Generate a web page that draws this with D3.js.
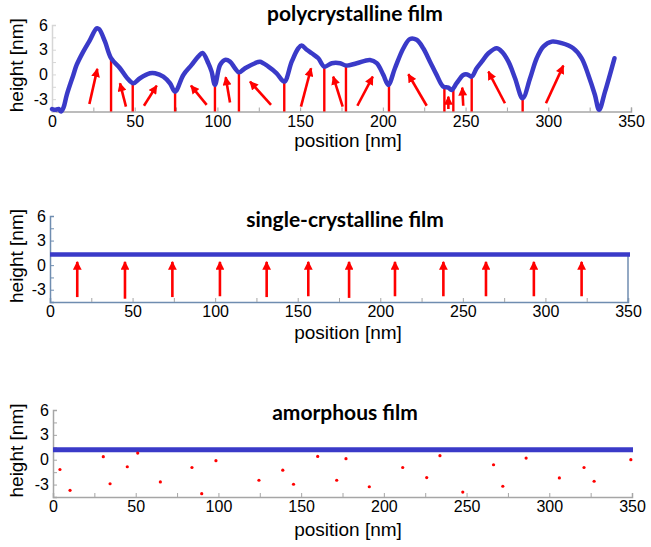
<!DOCTYPE html>
<html>
<head>
<meta charset="utf-8">
<script src="https://cdn.jsdelivr.net/npm/d3@7"></script>
<style>
  body { margin: 0; background: #fff; }
  svg { display: block; }
</style>
</head>
<body>
<script>
// height profiles [position nm, height nm]
const polyX = [0, 2, 4, 5.5, 7, 8.9, 12.9, 14.9, 18.9, 23, 27, 28.5, 32, 35.7, 41.1, 45.5, 49.2, 53.2, 59.2, 62.3, 67.3, 71.3, 74.4, 79.4, 84.4, 88.5, 91, 94.5, 96.5, 98.5, 101.6, 104.6, 107.6, 110.6, 113, 116.7, 122.7, 125.7, 130.8, 135.8, 140.4, 144.9, 148.9, 150.9, 154, 157, 161, 164.6, 169.1, 174.1, 177.9, 184.2, 192.2, 196.3, 200.3, 203.3, 207.3, 212.4, 216.4, 220.4, 224.4, 228.5, 232.5, 236.5, 239.6, 241.6, 244.6, 248.6, 251, 253.7, 256.7, 259.8, 263.8, 268.8, 271.9, 275.9, 279.9, 284.5, 289, 293, 297, 302.1, 308.1, 315.1, 320.2, 324.2, 328.2, 330.7, 334.3, 340];
const polyY = [-4.2, -4.3, -4.2, -4.5, -4.0, -2.5, -0.06, 1.15, 2.77, 4.2, 5.6, 5.5, 4.0, 1.97, 0.75, -0.46, -1.07, -0.46, 0.14, 0.14, -0.26, -1.07, -2.1, -0.06, 1.15, 2.2, 2.6, 1.36, 0.34, -1.27, 1.15, 1.76, 1.55, 0.75, 0.26, 0.75, 1.36, 1.55, 0.95, 0.14, -0.87, 1.55, 3.18, 3.5, 3.0, 2.57, 1.96, 0.95, 1.36, 1.36, 1.07, 1.36, 1.76, 1.36, -0.06, -1.27, 0.75, 3.18, 4.3, 4.2, 3.18, 1.55, -0.06, -1.48, -1.6, -1.88, -1.07, -0.06, 0.0, -0.27, 0.75, 1.55, 2.57, 3.18, 2.77, 1.55, -0.46, -2.9, -0.46, 1.96, 3.38, 3.98, 3.79, 3.18, 1.96, -0.06, -2.5, -4.3, -2.09, 1.96];

// grain boundaries of the polycrystalline film
const boundaries = [35.7, 48.8, 74.4, 98.5, 113, 140.4, 164.6, 177.7, 203.7, 237.2, 242.6, 253.7, 284.5];

// crystal orientation arrows: tail (x, y) -> head (x, y)
const polyArrowX0 = [22.6, 44.7, 55.6, 93.5, 107.6, 132.4, 150.5, 175.7, 184.6, 226.5, 239.6, 248.6, 273.8, 298.6];
const polyArrowY0 = [-3.6, -3.9, -3.8, -3.7, -3.4, -3.7, -3.9, -3.9, -3.8, -3.8, -4.2, -3.8, -3.5, -3.5];
const polyArrowX1 = [27.4, 41.1, 63.3, 84.0, 105.0, 119.7, 156.6, 170.0, 193.9, 215.4, 239.6, 248.0, 263.8, 309.1];
const polyArrowY1 = [0.67, -1.07, -1.36, -1.36, -0.34, -0.87, 0.75, -0.26, -0.26, 0.02, -2.7, -1.6, 0.34, 1.07];

const singleLevel = 1.3;
const singleArrowX = [16.5, 45.4, 74.1, 102.9, 131.2, 156.4, 181.1, 208.9, 238.2, 264, 293, 321.9];
const singleArrowY0 = [-3.9, -4.1, -3.9, -3.8, -3.9, -3.8, -4.0, -3.8, -3.8, -3.8, -3.8, -3.8];
const singleArrowY1 = 0.4;

const amorphLevel = 1.2;
const amorphX = [4.2, 10.3, 30.4, 34.5, 44.9, 51.2, 64.9, 84, 89.9, 98.5, 124.5, 138.9, 145.4, 160, 171.5, 177.1, 191.2, 211.4, 225.9, 233.9, 247.7, 266.3, 271.9, 286, 306.1, 321, 327.1, 349.3];
const amorphY = [-1.18, -3.7, 0.37, -2.9, -0.85, 0.8, -2.68, -0.94, -4.1, -0.12, -2.48, -1.26, -2.96, 0.4, -2.48, 0.12, -3.26, -0.94, -2.16, 0.49, -3.9, -0.61, -3.2, 0.2, -2.2, -0.94, -2.6, 0.0];

const titles = ["polycrystalline film", "single-crystalline film", "amorphous film"];
const xTicks = d3.range(0, 351, 25);
const yTicks = d3.range(-4.5, 6.01, 1.5);
const yLabels = [-3, 0, 3, 6];

const width = 651, height = 547;
const blue = "#3a3ac8", red = "#ff0000";
const sans = "Liberation Sans, Arial, sans-serif";

const svg = d3.select("body").append("svg")
    .attr("width", width)
    .attr("height", height);

svg.append("defs").append("marker")
    .attr("id", "head")
    .attr("viewBox", "0 0 10 10")
    .attr("refX", 9).attr("refY", 5)
    .attr("markerWidth", 3.6).attr("markerHeight", 3.4)
    .attr("markerUnits", "strokeWidth")
    .attr("orient", "auto")
  .append("path")
    .attr("d", "M0,0 L10,5 L0,10 Z")
    .attr("fill", red);

const panels = [
    {x0: 52, x1: 631, yTop: 25, yBot: 111.5, titleY: 21, titleX: 355, labelY: 147, axisColor: "#a6a6a6", yLine: "#d6d6d6"},
    {x0: 50, x1: 628, yTop: 216, yBot: 302, titleY: 227, titleX: 345, labelY: 339, axisColor: "#6f8db0", yLine: "#6f8db0"},
    {x0: 53, x1: 632, yTop: 410, yBot: 497, titleY: 420, titleX: 345, labelY: 536, axisColor: "#a6a6a6", yLine: "#a6a6a6"}
];

function setupPanel(p, i) {
    const x = d3.scaleLinear().domain([0, 350]).range([p.x0, p.x1]);
    const y = d3.scaleLinear().domain([-4.5, 6]).range([p.yBot, p.yTop]);
    const g = svg.append("g");

    const xAxis = d3.axisBottom(x)
        .tickValues(xTicks)
        .tickSize(-4)
        .tickPadding(4)
        .tickFormat(d => d % 50 === 0 ? d : "");
    const gx = g.append("g")
        .attr("transform", "translate(0," + p.yBot + ")")
        .call(xAxis);
    gx.select(".domain").attr("stroke", p.axisColor).attr("stroke-width", 1.5);
    gx.selectAll(".tick line").attr("stroke", "#a6a6a6");
    gx.selectAll("text")
        .attr("font-family", sans)
        .attr("font-size", "16px")
        .attr("fill", "#000");

    const yAxis = d3.axisLeft(y)
        .tickValues(yTicks)
        .tickSize(-4)
        .tickPadding(4)
        .tickFormat(d => yLabels.includes(d) ? d : "");
    const gy = g.append("g")
        .attr("transform", "translate(" + p.x0 + ",0)")
        .call(yAxis);
    gy.select(".domain").attr("stroke", p.yLine).attr("stroke-width", 1.5);
    gy.selectAll(".tick line").attr("stroke", p.yLine);
    gy.selectAll("text")
        .attr("font-family", sans)
        .attr("font-size", "16px")
        .attr("fill", "#000");

    g.append("text")
        .attr("x", p.titleX)
        .attr("y", p.titleY)
        .attr("text-anchor", "middle")
        .attr("font-family", "Lato, sans-serif")
        .attr("font-weight", "bold")
        .attr("font-size", "21px")
        .text(titles[i]);

    g.append("text")
        .attr("x", 348)
        .attr("y", p.labelY)
        .attr("text-anchor", "middle")
        .attr("font-family", sans)
        .attr("font-size", "19px")
        .text("position [nm]");

    g.append("text")
        .attr("transform", "translate(23," + ((p.yTop + p.yBot) / 2 - 3) + ") rotate(-90)")
        .attr("text-anchor", "middle")
        .attr("font-family", sans)
        .attr("font-size", "19px")
        .text("height [nm]");

    return {x, y, g};
}

function arrow(g, x1, y1, x2, y2) {
    g.append("line")
        .attr("x1", x1).attr("y1", y1)
        .attr("x2", x2).attr("y2", y2)
        .attr("stroke", red)
        .attr("stroke-width", 2.6)
        .attr("marker-end", "url(#head)");
}

// ---- polycrystalline
{
    const {x, y, g} = setupPanel(panels[0], 0);
    const pts = polyX.map((d, i) => [d, polyY[i]]);
    const bis = d3.bisector(d => d[0]).left;
    const heightAt = v => {
        const i = bis(pts, v);
        const a = pts[i - 1], b = pts[i];
        return a[1] + (b[1] - a[1]) * (v - a[0]) / (b[0] - a[0]);
    };
    g.selectAll(".gb")
        .data(boundaries)
        .enter().append("line")
        .attr("x1", d => x(d)).attr("x2", d => x(d))
        .attr("y1", d => y(heightAt(d)))
        .attr("y2", y(-4.5))
        .attr("stroke", red)
        .attr("stroke-width", 2.4);
    polyArrowX0.forEach((d, i) => arrow(g, x(d), y(polyArrowY0[i]), x(polyArrowX1[i]), y(polyArrowY1[i])));
    g.append("path")
        .datum(pts)
        .attr("fill", "none")
        .attr("stroke", blue)
        .attr("stroke-width", 4.5)
        .attr("stroke-linejoin", "round")
        .attr("stroke-linecap", "round")
        .attr("d", d3.line().x(d => x(d[0])).y(d => y(d[1])).curve(d3.curveCatmullRom.alpha(0.5)));
}

// ---- single-crystalline
{
    const {x, y, g} = setupPanel(panels[1], 1);
    g.append("line")
        .attr("x1", x(350)).attr("x2", x(350))
        .attr("y1", y(singleLevel)).attr("y2", y(-4.5))
        .attr("stroke", panels[1].axisColor)
        .attr("stroke-width", 1.5);
    singleArrowX.forEach((d, i) => arrow(g, x(d), y(singleArrowY0[i]), x(d), y(singleArrowY1)));
    g.append("line")
        .attr("x1", x(0)).attr("x2", x(350) + 2)
        .attr("y1", y(singleLevel)).attr("y2", y(singleLevel))
        .attr("stroke", blue)
        .attr("stroke-width", 4.5);
}

// ---- amorphous
{
    const {x, y, g} = setupPanel(panels[2], 2);
    g.append("line")
        .attr("x1", x(0)).attr("x2", x(350) + 1)
        .attr("y1", y(amorphLevel)).attr("y2", y(amorphLevel))
        .attr("stroke", blue)
        .attr("stroke-width", 5);
    g.selectAll(".dot")
        .data(amorphX)
        .enter().append("circle")
        .attr("cx", d => x(d))
        .attr("cy", (d, i) => y(amorphY[i]))
        .attr("r", 1.6)
        .attr("fill", red);
}
</script>
</body>
</html>
